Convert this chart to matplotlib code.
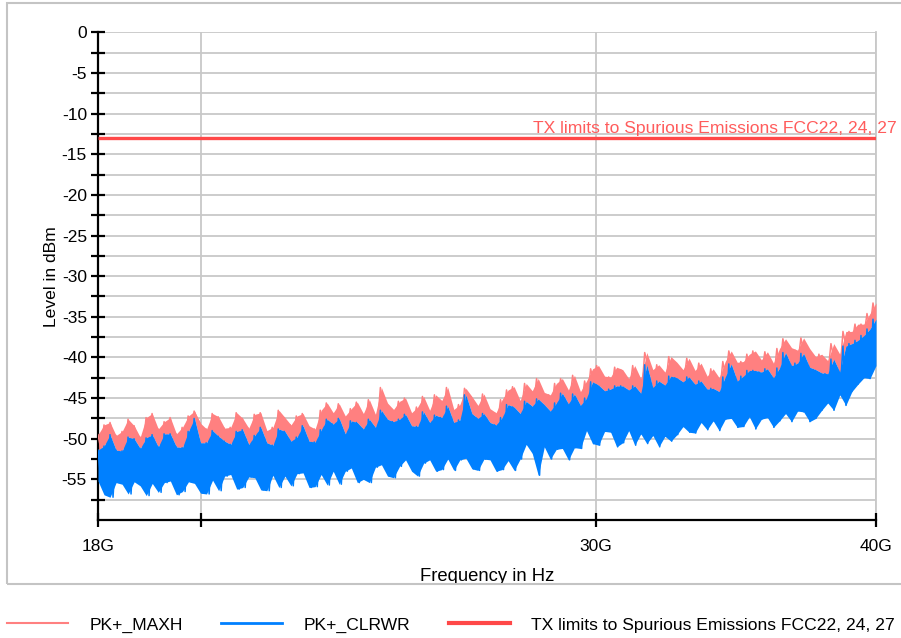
import numpy as np
import matplotlib
matplotlib.use("Agg")
import matplotlib.pyplot as plt
from matplotlib.lines import Line2D
from matplotlib.patches import Rectangle
from matplotlib.ticker import FixedLocator, NullFormatter, NullLocator

plt.rcParams['font.family'] = ['Liberation Sans', 'DejaVu Sans']

# ---- data (dBm) ----
f_start = 18e9
f_stop = 40e9
limit_level = -13.0
limit_label = "TX limits to Spurious Emissions FCC22, 24, 27"
series_names = ["PK+_MAXH", "PK+_CLRWR"]

maxh_peaks = [
    -49.5, -48.3, -48.0, -49.6, -49.1, -47.6, -48.4, -49.8, -47.4, -46.9,
    -48.8, -47.9, -47.4, -49.4, -48.6, -47.2, -46.6, -48.1, -48.8, -46.9,
    -47.3, -48.7, -48.6, -46.8, -47.5, -48.7, -47.0, -46.8, -49.0, -48.6,
    -46.5, -47.4, -48.3, -47.2, -46.9, -48.4, -48.8, -46.5, -45.6, -46.8,
    -45.7, -47.2, -46.3, -45.5, -46.9, -45.2, -47.0, -43.7, -45.6, -46.4,
    -45.4, -45.0, -46.8, -46.1, -44.8, -46.5, -44.6, -45.3, -43.7, -46.4,
    -45.8, -43.8, -44.8, -45.9, -44.5, -46.3, -46.8, -45.2, -44.0, -43.6,
    -45.3, -43.2, -44.1, -42.6, -44.3, -44.6, -43.2, -42.6, -44.0, -42.2,
    -44.2, -42.9, -41.4, -41.0, -42.3, -42.4, -41.2, -41.5, -42.6, -41.0,
    -42.6, -39.4, -41.5, -40.9, -41.8, -39.9, -40.6, -41.5, -40.1, -41.6,
    -40.7, -42.3, -41.4, -42.5, -40.5, -39.2, -40.6, -40.5, -39.6, -39.2,
    -40.3, -39.3, -40.7, -38.9, -37.7, -38.8, -39.1, -37.6, -38.9, -39.9,
    -39.6, -40.4, -38.3, -39.6, -36.8, -36.8, -35.9, -35.9, -34.6, -33.3,
]

clrwr_peaks = [
    -51.4, -50.9, -49.5, -51.4, -51.5, -49.8, -50.0, -51.2, -49.9, -49.5,
    -51.0, -49.4, -49.4, -51.0, -51.1, -49.1, -47.5, -50.5, -50.5, -49.0,
    -49.7, -50.3, -50.7, -49.1, -48.9, -50.7, -49.6, -48.6, -50.5, -50.8,
    -48.8, -49.1, -50.3, -49.8, -48.4, -50.3, -50.4, -48.9, -47.6, -48.2,
    -47.5, -49.4, -47.8, -48.0, -48.8, -47.6, -48.6, -46.5, -47.6, -47.9,
    -47.6, -47.0, -48.4, -48.5, -46.7, -48.0, -47.1, -47.4, -46.0, -48.0,
    -47.7, -44.6, -46.9, -47.5, -46.9, -48.0, -48.3, -47.4, -45.8, -46.1,
    -46.9, -45.4, -46.0, -45.1, -45.8, -46.6, -45.6, -44.4, -45.7, -44.5,
    -45.9, -45.0, -43.0, -43.4, -44.1, -43.9, -43.5, -43.5, -44.0, -43.5,
    -44.4, -40.9, -43.7, -42.9, -43.4, -42.3, -42.5, -43.0, -42.4, -43.3,
    -42.9, -43.9, -43.8, -44.2, -42.4, -40.8, -42.9, -42.3, -41.6, -41.6,
    -41.8, -41.4, -42.5, -41.3, -39.4, -41.0, -40.7, -39.5, -41.2, -41.5,
    -41.9, -42.0, -40.2, -41.8, -38.6, -38.3, -37.9, -37.3, -36.5, -35.3,
]

clrwr_dips = [
    -55.2, -56.9, -57.2, -55.4, -55.6, -56.8, -55.3, -55.8, -57.0, -55.5,
    -56.6, -55.4, -55.2, -56.9, -56.5, -55.3, -55.5, -56.7, -56.8, -55.1,
    -56.4, -54.6, -54.4, -56.2, -56.0, -54.7, -54.8, -56.3, -56.4, -54.5,
    -56.0, -54.6, -55.8, -54.3, -54.2, -56.0, -55.9, -54.4, -55.7, -54.0,
    -55.6, -54.0, -53.6, -55.4, -55.0, -55.4, -53.5, -53.2, -54.6, -54.8,
    -53.4, -52.6, -54.0, -54.6, -53.0, -52.6, -54.0, -53.8, -52.5, -53.9,
    -52.6, -52.4, -53.7, -53.9, -52.5, -52.6, -54.0, -53.8, -52.7, -53.9,
    -52.5, -50.7, -51.8, -54.5, -51.0, -52.5, -51.3, -51.2, -52.6, -51.1,
    -51.2, -49.0, -50.6, -50.8, -49.1, -49.2, -51.0, -50.5, -49.0, -50.8,
    -49.4, -50.6, -49.6, -51.0, -49.7, -50.3, -49.5, -48.5, -49.2, -49.3,
    -48.0, -48.9, -47.8, -49.0, -47.6, -47.5, -48.6, -48.5, -47.3, -48.8,
    -47.6, -47.4, -48.6, -47.8, -46.9, -47.9, -46.6, -46.7, -47.9, -47.5,
    -46.5, -45.6, -46.5, -44.6, -45.9, -44.2, -43.3, -42.5, -42.6, -41.0,
]

x_tick_values = [18e9, 20e9, 30e9, 40e9]
x_tick_labels = ["18G", "", "30G", "40G"]
y_major = [0, -5, -10, -15, -20, -25, -30, -35, -40, -45, -50, -55]
y_minor = [-2.5, -7.5, -12.5, -17.5, -22.5, -27.5, -32.5, -37.5, -42.5, -47.5, -52.5, -57.5]

# ---- build traces (interleave peaks and dips of the sweep) ----
maxh = np.column_stack([maxh_peaks, clrwr_peaks]).ravel()
clrwr = np.column_stack([clrwr_peaks, clrwr_dips]).ravel()
freq = np.geomspace(f_start, f_stop, len(clrwr))
freq_k = np.geomspace(f_start, f_stop, len(clrwr_peaks))

W, H = 901, 638
fig = plt.figure(figsize=(W / 100, H / 100), dpi=100)
ax = fig.add_axes([98 / W, (H - 520) / H, (876 - 98) / W, (520 - 32.3) / H])

c_maxh = "#ff8080"
c_clrwr = "#0080ff"
c_limit = "#ff4848"

ax.fill_between(freq_k, clrwr_peaks, maxh_peaks, color=c_maxh, lw=0, zorder=2.5)
ax.plot(freq, maxh, color=c_maxh, lw=1.1, zorder=3)
ax.fill_between(freq_k, clrwr_dips, clrwr_peaks, color=c_clrwr, lw=0, zorder=3.5)
ax.plot(freq, clrwr, color=c_clrwr, lw=1.1, zorder=4)
ax.plot([f_start, f_stop], [limit_level, limit_level], color=c_limit, lw=2.4, zorder=5,
        solid_capstyle="butt")

ax.set_xscale("log")
ax.set_xlim(f_start, f_stop)
ax.set_ylim(-60, 0)

ax.xaxis.set_major_locator(FixedLocator(x_tick_values))
ax.set_xticklabels(x_tick_labels)
ax.xaxis.set_minor_locator(NullLocator())
ax.xaxis.set_minor_formatter(NullFormatter())
ax.yaxis.set_major_locator(FixedLocator(y_major))
ax.yaxis.set_minor_locator(FixedLocator(y_minor))
ax.set_yticklabels([str(v) for v in y_major])

ax.grid(True, which="both", axis="y", color="#c8c8c8", lw=1.3, zorder=0)
ax.grid(True, which="major", axis="x", color="#c8c8c8", lw=1.3, zorder=0)
ax.set_axisbelow(True)

for s in ["top", "right"]:
    ax.spines[s].set_visible(False)
for s in ["left", "bottom"]:
    ax.spines[s].set_color("black")
    ax.spines[s].set_linewidth(1.6)
ax.plot([1, 1], [0, 1], transform=ax.transAxes, color="#c8c8c8", lw=1.3, zorder=0, clip_on=False)

ax.tick_params(axis="both", which="both", direction="inout", length=10, width=1.6,
               color="black", labelsize=12.5)
ax.tick_params(axis="x", pad=9)
ax.tick_params(axis="y", pad=3)

ax.set_xlabel("Frequency in Hz", fontsize=13.3, labelpad=10)
ax.set_ylabel("Level in dBm", fontsize=12.6, labelpad=2)

ax.text(1 + (897 - 876) / (876 - 98), limit_level + 0.55, limit_label, color="#ff5c5c",
        fontsize=12.6, ha="right", va="baseline", transform=ax.get_yaxis_transform(),
        clip_on=False, zorder=6)

# outer frame
fig.add_artist(Rectangle((7 / W, (H - 584) / H), (W + 10 - 7) / W, (584 - 3) / H,
                         transform=fig.transFigure, fill=False, edgecolor="#c4c4c4", lw=1.5))

handles = [
    Line2D([], [], color=c_maxh, lw=1.5),
    Line2D([], [], color=c_clrwr, lw=2.0),
    Line2D([], [], color=c_limit, lw=3.0),
]
fig.legend(handles, series_names + [limit_label], loc="center left",
           bbox_to_anchor=(7 / W, (H - 625) / H), ncol=3, frameon=False,
           fontsize=12.6, handlelength=3.5, handletextpad=1.2, columnspacing=2.2,
           borderpad=0, borderaxespad=0)

fig.savefig("out.png", dpi=100)
